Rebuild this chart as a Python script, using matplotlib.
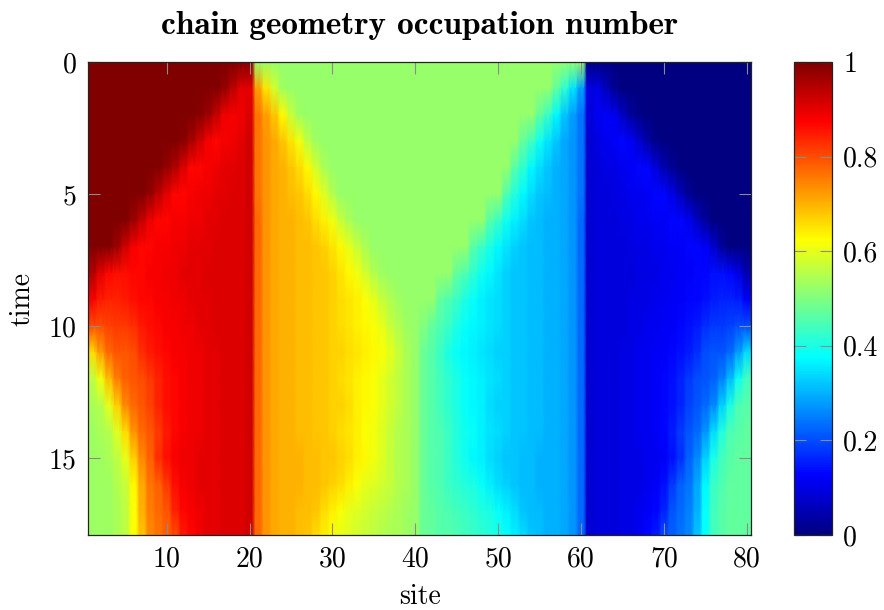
import numpy as np
import matplotlib
matplotlib.use("Agg")
import matplotlib.pyplot as plt
from matplotlib.colors import LinearSegmentedColormap

plt.rcParams['font.family'] = 'cmr10'
plt.rcParams['axes.formatter.use_mathtext'] = True

# ---- data: occupation number per site (1..80) and time (0..18), in percent ----
sites = np.arange(1, 81)
times = np.arange(0, 19)

occ_rows = [
    ("100 100 100 100 100 100 100 100 100 100 100 100 100 100 100 100 100 100 100 100 "
     "52 52 52 52 52 52 52 52 52 52 52 52 52 52 52 52 52 52 52 52 "
     "52 52 52 52 52 52 52 52 52 52 52 52 52 52 52 52 52 52 52 52 "
     "0 0 0 0 0 0 0 0 0 0 0 0 0 0 0 0 0 0 0 0"),
    ("100 100 100 100 100 100 100 100 100 100 100 100 100 100 100 100 98 94 90 90 "
     "72 65 58 53 52 52 52 52 52 52 52 52 52 52 52 52 52 52 52 52 "
     "52 52 52 52 52 52 52 52 52 52 52 52 52 52 52 52 47 42 35 28 "
     "10 10 6 2 0 0 0 0 0 0 0 0 0 0 0 0 0 0 0 0"),
    ("100 100 100 100 100 100 100 100 100 100 100 100 100 99 97 93 89 88 89 91 "
     "76 72 68 63 57 53 52 52 52 52 52 52 52 52 52 52 52 52 52 52 "
     "52 52 52 52 52 52 52 52 52 52 52 52 52 52 47 43 37 32 28 24 "
     "9 11 12 11 7 3 1 0 0 0 0 0 0 0 0 0 0 0 0 0"),
    ("100 100 100 100 100 100 100 100 100 100 100 99 96 92 88 87 88 89 90 92 "
     "76 73 71 68 65 61 56 53 52 52 52 52 52 52 52 52 52 52 52 52 "
     "52 52 52 52 52 52 52 52 52 52 52 52 47 44 39 35 32 29 27 24 "
     "8 10 11 12 13 12 8 4 1 0 0 0 0 0 0 0 0 0 0 0"),
    ("100 100 100 100 100 100 100 100 100 98 95 91 87 87 88 89 90 90 91 92 "
     "76 73 71 70 68 66 63 58 54 52 52 52 52 52 52 52 52 52 52 52 "
     "52 52 52 52 52 52 52 52 52 52 52 46 42 37 34 32 30 29 27 24 "
     "8 9 10 10 11 12 13 13 9 5 2 0 0 0 0 0 0 0 0 0"),
    ("100 100 100 100 100 100 100 98 94 90 87 87 88 89 89 90 90 91 91 92 "
     "76 73 71 70 69 68 66 63 59 55 52 52 52 52 52 52 52 52 52 52 "
     "52 52 52 52 52 52 52 52 52 52 45 41 37 34 32 31 30 29 27 24 "
     "8 9 9 10 10 11 11 12 13 13 10 6 2 0 0 0 0 0 0 0"),
    ("100 100 100 100 100 97 93 89 87 87 88 88 89 89 90 90 91 91 91 92 "
     "77 73 71 70 70 69 68 66 64 61 57 54 52 52 52 52 52 52 52 52 "
     "52 52 52 52 52 52 52 52 46 43 39 36 34 32 31 30 30 29 27 23 "
     "8 9 9 9 10 10 11 11 12 12 13 13 11 7 3 0 0 0 0 0"),
    ("100 100 100 97 92 88 87 87 88 88 89 89 90 90 90 91 91 91 91 92 "
     "77 73 71 70 70 69 69 68 67 65 63 60 57 54 52 52 52 52 52 52 "
     "52 52 52 52 52 52 46 43 40 37 35 33 32 31 31 30 30 29 27 23 "
     "8 9 9 9 9 10 10 10 11 11 12 12 13 13 12 8 3 0 0 0"),
    ("95 90 87 86 86 87 87 88 88 89 89 90 90 90 91 91 91 91 91 92 "
     "77 73 71 70 70 69 69 68 68 67 65 63 61 58 55 53 52 52 52 52 "
     "52 52 52 52 47 45 42 39 37 35 33 32 32 31 31 30 30 29 27 23 "
     "8 9 9 9 9 9 10 10 10 11 11 12 12 13 13 14 14 13 10 5"),
    ("88 85 84 84 85 86 87 87 88 88 89 89 90 90 90 91 91 91 91 92 "
     "77 73 71 70 70 69 69 68 68 67 66 65 64 62 60 57 55 53 52 52 "
     "52 52 47 45 43 40 38 36 35 34 33 32 32 31 31 30 30 29 27 23 "
     "8 9 9 9 9 10 10 10 11 11 12 12 13 13 14 15 16 16 15 12"),
    ("80 80 81 82 82 83 85 86 87 88 88 89 89 90 90 91 91 91 91 92 "
     "77 73 71 70 70 69 69 68 68 67 66 65 64 63 62 60 57 55 53 52 "
     "50 47 45 43 40 38 37 36 35 34 33 32 32 31 31 30 30 29 27 23 "
     "8 9 9 9 9 10 10 11 11 12 12 13 14 15 17 18 18 19 20 20"),
    ("66 72 77 79 79 80 83 85 86 87 88 88 89 89 90 90 91 91 91 92 "
     "77 73 71 70 70 69 69 68 68 67 67 66 65 64 63 62 60 57 54 52 "
     "48 46 43 40 38 37 36 35 34 33 33 32 32 31 31 30 30 29 27 23 "
     "8 9 9 9 10 10 11 11 12 12 13 14 15 17 20 21 21 23 28 34"),
    ("56 61 69 75 78 79 80 82 84 86 87 88 89 89 90 90 91 91 91 92 "
     "77 73 71 70 70 69 69 68 68 67 66 65 64 63 62 60 58 56 54 52 "
     "48 46 44 42 40 38 37 36 35 34 33 32 32 31 31 30 30 29 27 23 "
     "8 9 9 9 10 10 11 11 12 13 14 16 18 20 21 22 25 31 39 44"),
    ("54 55 60 67 74 77 79 81 84 86 87 88 89 89 90 90 91 91 91 92 "
     "77 73 71 70 70 69 69 68 68 67 67 66 64 63 62 60 58 56 54 52 "
     "48 46 44 42 40 38 37 36 34 33 33 32 32 31 31 30 30 29 27 23 "
     "8 9 9 9 10 10 11 11 12 13 14 16 19 21 23 26 33 40 45 46"),
    ("53 54 55 59 66 73 77 79 82 85 87 88 89 89 90 90 91 91 91 92 "
     "77 73 71 70 70 69 69 68 68 67 66 65 64 62 61 59 57 55 54 52 "
     "48 46 45 43 41 39 38 36 35 34 33 32 32 31 31 30 30 29 27 23 "
     "8 9 9 9 10 10 11 11 12 13 15 18 21 23 27 34 41 45 46 47"),
    ("53 53 54 56 60 67 74 78 83 86 88 89 89 90 90 90 91 91 91 92 "
     "77 73 71 70 70 70 69 69 68 68 67 66 64 63 61 59 57 55 54 52 "
     "48 46 45 43 41 39 37 36 34 33 32 32 31 31 30 30 30 29 27 23 "
     "8 9 9 9 10 10 10 11 11 12 14 17 22 26 33 40 44 46 47 47"),
    ("53 53 53 55 57 63 71 76 78 82 86 88 89 90 90 90 91 91 91 92 "
     "77 73 71 70 70 70 69 69 68 67 66 64 62 60 59 58 57 55 54 52 "
     "48 46 45 43 42 41 40 38 36 34 33 32 31 31 30 30 30 29 27 23 "
     "8 9 9 9 10 10 10 11 12 14 18 22 24 29 37 43 45 47 47 47"),
    ("53 53 53 54 56 62 70 75 77 79 84 87 88 89 90 90 91 91 91 92 "
     "77 73 71 70 70 69 69 68 66 64 62 60 59 58 57 56 55 54 53 52 "
     "48 47 46 45 44 43 42 41 40 38 36 34 32 31 31 30 30 29 27 23 "
     "8 9 9 9 10 10 11 12 13 16 21 23 25 30 38 44 46 47 47 47"),
    ("53 53 53 54 56 62 68 74 76 78 80 85 87 89 90 90 91 91 91 92 "
     "77 73 71 70 70 69 68 66 64 62 60 59 58 57 56 55 54 54 53 52 "
     "48 47 46 46 45 44 43 42 41 40 38 36 34 32 31 30 30 29 27 23 "
     "8 9 9 9 10 10 11 13 15 20 22 24 26 32 38 44 46 47 47 47"),
]

occ = np.array([[int(v) for v in r.split()] for r in occ_rows]) / 100.0
assert occ.shape == (len(times), len(sites)), occ.shape

# pgfplots-style jet colormap
jet_pgf = LinearSegmentedColormap.from_list(
    'jet_pgf',
    [(0.0, (0/255, 0/255, 128/255)),
     (1/8, (0/255, 0/255, 255/255)),
     (3/8, (0/255, 255/255, 255/255)),
     (5/8, (255/255, 255/255, 0/255)),
     (7/8, (255/255, 0/255, 0/255)),
     (1.0, (128/255, 0/255, 0/255))])

# each site is a column: two nodes per site, shading smooth in time
xn = np.empty(2 * len(sites))
xn[0::2] = sites - 0.3
xn[1::2] = sites + 0.3
xn[0] = 0.5
xn[-1] = 80.5
X, Y = np.meshgrid(xn, times)
C = np.repeat(occ, 2, axis=1)

fig = plt.figure(figsize=(8.84, 6.10), dpi=100)
ax = fig.add_axes([88/884, 1 - 535/610, (751 - 88)/884, (535 - 62)/610])
cax = fig.add_axes([794/884, 1 - 535/610, (832 - 794)/884, (535 - 62)/610])

mesh = ax.pcolormesh(X, Y, C, shading='gouraud', cmap=jet_pgf, vmin=0, vmax=1)

ax.set_xlim(0.5, 80.5)
ax.set_ylim(17.9, 0)
ax.set_xticks([10, 20, 30, 40, 50, 60, 70, 80])
ax.set_xticklabels(['10', '20', '30', '40', '50', '60', '70', '80'])
ax.set_yticks([0, 5, 10, 15])
ax.set_yticklabels(['0', '5', '10', '15'])
ax.tick_params(direction='in', length=8.5, width=0.8, color='#8c8c8c',
               labelcolor='black', labelsize=20, pad=8,
               top=True, right=True, bottom=True, left=True)
for sp in ax.spines.values():
    sp.set_linewidth(0.9)
    sp.set_color('#222222')

ax.set_xlabel('site', fontsize=20, labelpad=8)
ax.set_ylabel('time', fontsize=20, labelpad=10)
ax.set_title('chain geometry occupation number', fontsize=24,
             fontfamily='cmb10', pad=20)

cb = fig.colorbar(mesh, cax=cax)
cb.set_ticks([0, 0.2, 0.4, 0.6, 0.8, 1.0])
cb.set_ticklabels(['0', '0.2', '0.4', '0.6', '0.8', '1'])
cax.tick_params(direction='in', length=8.5, width=0.8, color='#8c8c8c',
                labelcolor='black', labelsize=20, pad=8,
                left=True, right=True, labelleft=False, labelright=True)
cb.outline.set_linewidth(0.9)
cb.outline.set_edgecolor('#222222')

fig.savefig('out.png', dpi=100)
